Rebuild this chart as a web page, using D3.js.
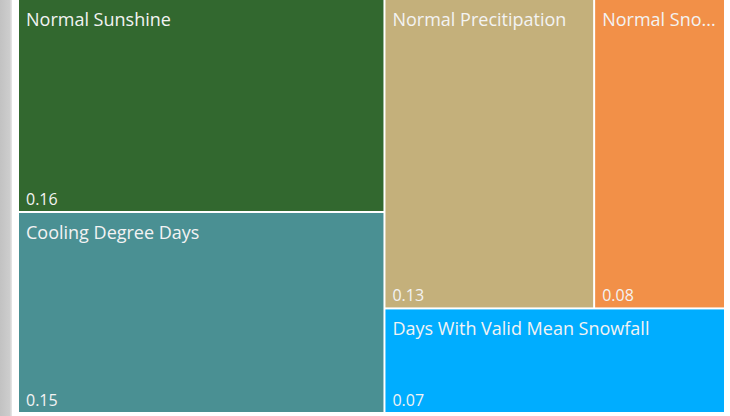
<!DOCTYPE html>
<html>
<head>
<meta charset="utf-8">
<script src="https://cdn.jsdelivr.net/npm/d3@7"></script>
<style>
  body { margin: 0; background: #fff; }
  svg { display: block; }
  text { font-family: "Open Sans", "Noto Sans", sans-serif; fill: #f3f3f3; }
</style>
</head>
<body>
<svg width="730" height="416"></svg>
<script>
// category names, values (shown rounded to 2 decimals) and colours
const categories = ['Normal Sunshine', 'Cooling Degree Days', 'Normal Precitipation', 'Normal Snowfall', 'Days With Valid Mean Snowfall'];
const values = [0.160, 0.151, 0.133, 0.083, 0.073];
const colors = ['#32682f', '#4a9093', '#c4b07b', '#f29048', '#00adff'];

// grouping of the tiles (column / row nesting as in the picture)
const groups = [[0, 1], [[2, 3], 4]];

const svg = d3.select('svg');

// grey shadow strip at the left
const grad = svg.append('defs').append('linearGradient').attr('id', 'shade');
grad.append('stop').attr('offset', '0%').attr('stop-color', '#c2c2c2');
grad.append('stop').attr('offset', '80%').attr('stop-color', '#cdcdcd');
grad.append('stop').attr('offset', '100%').attr('stop-color', '#e8e8e8');
svg.append('rect').attr('x', 0).attr('y', 0).attr('width', 12).attr('height', 416).attr('fill', 'url(#shade)');

// build nested hierarchy from the groups
function build(g) {
  if (Array.isArray(g)) return {children: g.map(build)};
  return {name: categories[g], value: values[g], color: colors[g]};
}
const root = d3.hierarchy(build(groups))
  .sum(d => d.value || 0);

d3.treemap()
  .tile(d3.treemapSliceDice)
  .size([705, 412])
  .paddingInner(2)(root);

const chart = svg.append('g').attr('transform', 'translate(19,0)');

const leaf = chart.selectAll('g.leaf')
  .data(root.leaves())
  .enter().append('g')
  .classed('leaf', true)
  .attr('transform', d => `translate(${d.x0},${d.y0})`);

leaf.append('rect')
  .attr('width', d => d.x1 - d.x0)
  .attr('height', d => d.y1 - d.y0)
  .attr('fill', d => d.data.color);

leaf.append('text')
  .attr('x', 7)
  .attr('y', 26)
  .style('font-size', '18px')
  .text(d => d.data.name)
  .each(function (d) {
    // shorten with an ellipsis when it doesn't fit
    const el = d3.select(this);
    const maxW = d.x1 - d.x0 - 12;
    let s = d.data.name;
    if (this.getComputedTextLength() <= maxW) return;
    while (s.length > 1) {
      s = s.slice(0, -1);
      el.text(s.trimEnd() + '...');
      if (this.getComputedTextLength() <= maxW) break;
    }
  });

leaf.append('text')
  .attr('x', 7)
  .attr('y', d => d.y1 - d.y0 - 6)
  .style('font-size', '16px')
  .text(d => d3.format('.2f')(d.data.value));
</script>
</body>
</html>
